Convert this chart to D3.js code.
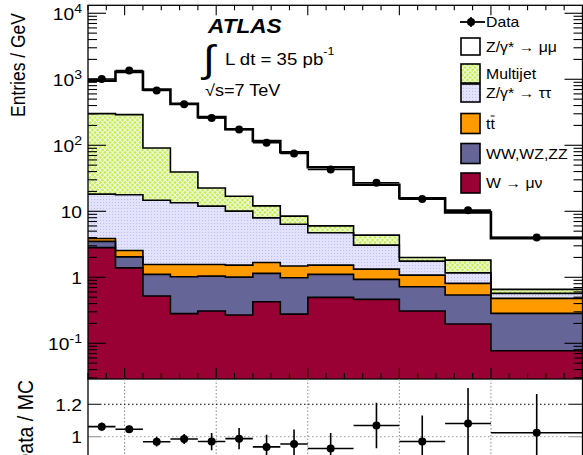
<!DOCTYPE html>
<html>
<head>
<meta charset="utf-8">
<script src="https://cdn.jsdelivr.net/npm/d3@7"></script>
<style>
  body { margin: 0; background: #fff; }
  svg { display: block; }
  text { font-family: "Liberation Sans", Arial, Helvetica, sans-serif; fill: #000; }
</style>
</head>
<body>
<script>
// ---- data -------------------------------------------------------------
const binEdges = [30, 45, 60, 75, 90, 105, 120, 135, 150, 175, 200, 225, 250, 300];

const dataVals = [1011, 1355, 675, 419, 259, 173, 109, 75, 43, 27, 15.3, 10.4, 4.02];
const dataErr  = [8.2, 9.5, 6.7, 5.3, 4.2, 3.4, 2.7, 2.2, 1.3, 1.04, 0.78, 0.65, 0.28];

// stacked backgrounds, bottom to top (entries / GeV)
const wMuNu    = [2.82, 1.39, 0.52, 0.282, 0.308, 0.268, 0.426, 0.277, 0.497, 0.463, 0.308, 0.196, 0.077];
const diboson  = [0.68, 0.65, 0.587, 0.736, 0.735, 0.739, 0.72, 0.706, 0.61, 0.466, 0.41, 0.342, 0.207];
const ttbar    = [0.38, 0.51, 0.46, 0.549, 0.524, 0.523, 0.534, 0.497, 0.423, 0.401, 0.362, 0.271, 0.195];
const zTauTau  = [14.3, 15.25, 13.1, 11.9, 10.4, 8.52, 6.28, 4.9, 3.19, 1.74, 0.68, 0.36, 0.091];
const multijet = [284, 274, 76.5, 26, 10.6, 6.85, 4.14, 2.06, 1.3, 1.28, 0.24, 0.65, 0.086];
const zMuMu    = [650, 1003, 606, 385, 244, 158, 104, 70, 40.4, 20.9, 13.8, 7.8, 3.27];

const ratioVals = [1.062, 1.046, 0.969, 0.986, 0.97, 0.988, 0.937, 0.955, 0.927, 1.069, 0.97, 1.081, 1.024];
const ratioErr  = [0.025, 0.022, 0.03, 0.031, 0.053, 0.066, 0.075, 0.09, 0.095, 0.14, 0.16, 0.22, 0.24];

const yTickVals   = [0.1, 1, 10, 100, 1000, 10000];
const yTickBase   = ["10", "1", "10", "10", "10", "10"];
const yTickExp    = ["-1", "", "", "2", "3", "4"];
const ratioTicks  = [0.8, 1.0, 1.2];
const ratioLabels = ["0.8", "1", "1.2"];

const legendNames = ["Data", "Z/γ* → μμ", "Multijet", "Z/γ* → ττ", "tt", "WW,WZ,ZZ", "W → μν"];

// ---- layout -------------------------------------------------------------
const W = 583, H = 455;
const L = 88, R = 582.5, T = 5.3, B = 379;
const SX = 1.13; // horizontal text stretch

const svg = d3.select("body").append("svg").attr("width", W).attr("height", H);
const defs = svg.append("defs");

const x  = d3.scaleLinear().domain([30, 300]).range([L, R]);
const y  = d3.scaleLog().domain([0.0288, 13200]).range([B, T]);
const yr = d3.scaleLinear().domain([0.65, 1.356]).range([493.4, B]);

// hatch fills
const pMj = defs.append("pattern").attr("id", "hatchMj").attr("patternUnits", "userSpaceOnUse")
  .attr("width", 5).attr("height", 5);
pMj.append("rect").attr("width", 5).attr("height", 5).attr("fill", "#c4ee55");
pMj.append("path").attr("d", "M0,0L5,5M5,0L0,5").attr("stroke", "#f4fbe0").attr("stroke-width", 1.1);

const pTt = defs.append("pattern").attr("id", "hatchTt").attr("patternUnits", "userSpaceOnUse")
  .attr("width", 3).attr("height", 3);
pTt.append("rect").attr("width", 3).attr("height", 3).attr("fill", "#e2e2fc");
pTt.append("rect").attr("x", 1).attr("y", 1).attr("width", 1).attr("height", 1).attr("fill", "#bdbdee");

defs.append("clipPath").attr("id", "mainClip").append("rect")
  .attr("x", L).attr("y", T).attr("width", R - L).attr("height", B - T);
defs.append("clipPath").attr("id", "ratioClip").append("rect")
  .attr("x", L).attr("y", B).attr("width", R - L).attr("height", H - B);

function txt(g, px, py, str, size, opts = {}) {
  const t = g.append("text")
    .attr("transform", `translate(${px},${py}) scale(${SX},1)` + (opts.rotate ? ` rotate(${opts.rotate})` : ""))
    .attr("font-size", size)
    .attr("text-anchor", opts.anchor || "start");
  if (opts.weight) t.attr("font-weight", opts.weight);
  if (opts.style) t.attr("font-style", opts.style);
  t.text(str);
  return t;
}

// ---- stacked histogram ----------------------------------------------------
const layersDef = [
  { vals: wMuNu,    fill: "#990033" },
  { vals: diboson,  fill: "#656598" },
  { vals: ttbar,    fill: "#ff9a00" },
  { vals: zTauTau,  fill: "url(#hatchTt)" },
  { vals: multijet, fill: "url(#hatchMj)" },
  { vals: zMuMu,    fill: "#ffffff" }
];
const nb = dataVals.length;
let cum = new Array(nb).fill(0);
const layers = layersDef.map(d => {
  const lo = cum.slice();
  cum = cum.map((v, i) => v + d.vals[i]);
  return { ...d, lo, hi: cum.slice() };
});

function stepPts(lo, hi) {
  const pts = [];
  for (let i = 0; i < nb; i++) {
    const a = { x: x(binEdges[i]), y0: lo[i] > 0 ? y(lo[i]) : B, y1: y(hi[i]) };
    const b = { x: x(binEdges[i + 1]), y0: a.y0, y1: a.y1 };
    pts.push(a, b);
  }
  return pts;
}
const area = d3.area().x(d => d.x).y0(d => d.y0).y1(d => d.y1);
const topLine = d3.line().x(d => d.x).y(d => d.y1);

const gMain = svg.append("g").attr("clip-path", "url(#mainClip)");
layers.forEach(l => {
  gMain.append("path").attr("d", area(stepPts(l.lo, l.hi))).attr("fill", l.fill);
});
layers.forEach((l, k) => {
  gMain.append("path").attr("d", topLine(stepPts(l.lo, l.hi)))
    .attr("fill", "none").attr("stroke", "#000")
    .attr("stroke-width", k === layers.length - 1 ? 2.6 : 1.6);
});

// data points
const gData = gMain.append("g");
dataVals.forEach((v, i) => {
  const cx = x((binEdges[i] + binEdges[i + 1]) / 2), cy = y(v);
  gData.append("line").attr("x1", x(binEdges[i])).attr("x2", x(binEdges[i + 1]))
    .attr("y1", cy).attr("y2", cy).attr("stroke", "#000").attr("stroke-width", 1.6);
  gData.append("line").attr("x1", cx).attr("x2", cx)
    .attr("y1", y(v + dataErr[i])).attr("y2", y(v - dataErr[i]))
    .attr("stroke", "#000").attr("stroke-width", 1.6);
  gData.append("circle").attr("cx", cx).attr("cy", cy).attr("r", 4).attr("fill", "#000");
});

// ---- main frame and ticks ----------------------------------------------------
const gAx = svg.append("g").attr("stroke", "#000").attr("stroke-width", 1.1);
gAx.append("rect").attr("x", L).attr("y", T).attr("width", R - L).attr("height", B - T)
  .attr("fill", "none").attr("stroke-width", 1.3);

for (let d = -2; d <= 4; d++) {
  for (let m = 1; m <= 9; m++) {
    const v = m * Math.pow(10, d);
    if (v < y.domain()[0] || v > y.domain()[1]) continue;
    const len = m === 1 ? 18 : 9, yy = y(v);
    gAx.append("line").attr("x1", L).attr("x2", L + len).attr("y1", yy).attr("y2", yy);
    gAx.append("line").attr("x1", R).attr("x2", R - len).attr("y1", yy).attr("y2", yy);
  }
}
for (let v = 30; v <= 300; v += 10) {
  const major = v % 50 === 0, xx = x(v);
  gAx.append("line").attr("x1", xx).attr("x2", xx).attr("y1", T).attr("y2", T + (major ? 10 : 5));
  gAx.append("line").attr("x1", xx).attr("x2", xx).attr("y1", B).attr("y2", B - (major ? 11 : 6));
}

const gTxt = svg.append("g");
yTickVals.forEach((v, i) => {
  const t = txt(gTxt, 82, y(v) + 6.5, yTickBase[i], 17, { anchor: "end" });
  if (yTickExp[i]) {
    t.append("tspan").attr("dy", -7).attr("font-size", 12.5).text(yTickExp[i]);
  }
});
txt(gTxt, 25, 13, "Entries / GeV", 17.5, { anchor: "end", rotate: -90 });

// ---- labels ---------------------------------------------------------------
txt(gTxt, 208, 33, "ATLAS", 20, { weight: "bold", style: "italic" });
txt(gTxt, 203, 72, "∫", 38);
const lum = txt(gTxt, 225, 65, "L dt = 35 pb", 16.5);
lum.append("tspan").attr("dy", -10).attr("font-size", 11).text("-1");
txt(gTxt, 205, 96, "√s=7 TeV", 16);

// ---- legend -------------------------------------------------------------
const gLeg = svg.append("g");
const rows = [22, 46.5, 73.5, 93, 123.5, 153.5, 183];
const boxH = [0, 17, 19, 18, 20, 20, 20];
const boxFill = [null, "#ffffff", "url(#hatchMj)", "url(#hatchTt)", "#ff9a00", "#656598", "#990033"];
gLeg.append("line").attr("x1", 460).attr("x2", 485).attr("y1", rows[0]).attr("y2", rows[0])
  .attr("stroke", "#000").attr("stroke-width", 1.8);
gLeg.append("line").attr("x1", 471).attr("x2", 471).attr("y1", rows[0] - 5).attr("y2", rows[0] + 5)
  .attr("stroke", "#000").attr("stroke-width", 1.6);
gLeg.append("circle").attr("cx", 471).attr("cy", rows[0]).attr("r", 4).attr("fill", "#000");
for (let i = 1; i < rows.length; i++) {
  gLeg.append("rect").attr("x", 461).attr("y", rows[i] - boxH[i] / 2)
    .attr("width", 19).attr("height", boxH[i])
    .attr("fill", boxFill[i]).attr("stroke", "#000").attr("stroke-width", 1.6);
}
legendNames.forEach((name, i) => {
  txt(gLeg, 486, rows[i] + 5, name, 14);
});
// bar over the anti-top
gLeg.append("line").attr("x1", 486 + 4.6).attr("x2", 486 + 8.6)
  .attr("y1", rows[4] - 7.5).attr("y2", rows[4] - 7.5).attr("stroke", "#000").attr("stroke-width", 1);

// ---- ratio panel ---------------------------------------------------------
const gR = svg.append("g");
const gGrid = gR.append("g").attr("clip-path", "url(#ratioClip)");
[50, 100, 150, 200, 250].forEach(v => {
  gGrid.append("line").attr("x1", x(v)).attr("x2", x(v)).attr("y1", B).attr("y2", H)
    .attr("stroke", "#888").attr("stroke-width", 1).attr("stroke-dasharray", "1.5,2");
});
ratioTicks.forEach(v => {
  gGrid.append("line").attr("x1", L + 12).attr("x2", R - 14).attr("y1", yr(v)).attr("y2", yr(v))
    .attr("stroke", v === 1 ? "#999" : "#000").attr("stroke-width", 1)
    .attr("stroke-dasharray", "1.5,2.5");
  gGrid.append("line").attr("x1", L).attr("x2", L + 12).attr("y1", yr(v)).attr("y2", yr(v))
    .attr("stroke", v === 1 ? "#888" : "#000").attr("stroke-width", 1.1);
  gGrid.append("line").attr("x1", R - 14).attr("x2", R).attr("y1", yr(v)).attr("y2", yr(v))
    .attr("stroke", v === 1 ? "#888" : "#000").attr("stroke-width", 1.1);
});
gR.append("line").attr("x1", L).attr("x2", L).attr("y1", B).attr("y2", H)
  .attr("stroke", "#000").attr("stroke-width", 1.3);
gR.append("line").attr("x1", R).attr("x2", R).attr("y1", B).attr("y2", H)
  .attr("stroke", "#000").attr("stroke-width", 1.3);
ratioTicks.forEach((v, i) => {
  if (yr(v) < H) txt(gR, 82, yr(v) + 6.3, ratioLabels[i], 17, { anchor: "end" });
});
txt(gR, 33, 380, "Data / MC", 19.5, { anchor: "end", rotate: -90 });

const gRp = gR.append("g").attr("clip-path", "url(#ratioClip)");
ratioVals.forEach((v, i) => {
  const cx = x((binEdges[i] + binEdges[i + 1]) / 2), cy = yr(v);
  gRp.append("line").attr("x1", x(binEdges[i])).attr("x2", x(binEdges[i + 1]))
    .attr("y1", cy).attr("y2", cy).attr("stroke", "#000").attr("stroke-width", 1.6);
  gRp.append("line").attr("x1", cx).attr("x2", cx)
    .attr("y1", yr(v + ratioErr[i])).attr("y2", yr(v - ratioErr[i]))
    .attr("stroke", "#000").attr("stroke-width", 1.6);
  gRp.append("circle").attr("cx", cx).attr("cy", cy).attr("r", 4).attr("fill", "#000");
});
</script>
</body>
</html>
